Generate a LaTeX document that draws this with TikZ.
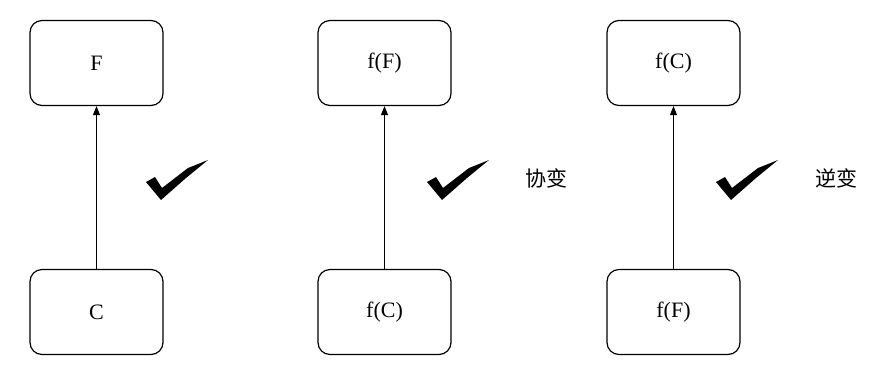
\documentclass[tikz,border=0pt]{standalone}
\usepackage{fontspec}
\setmainfont{Liberation Serif}
\newfontfamily\cjk{Noto Sans CJK SC}
\usetikzlibrary{arrows.meta}
\tikzset{
  box/.style={draw, line width=1.2pt, rounded corners=12pt, minimum width=133pt, minimum height=85pt, inner sep=0pt, font=\fontsize{22}{24}\selectfont},
  conn/.style={line width=1pt, -{Triangle[length=9pt,width=7pt]}},
  lbl/.style={font=\cjk\fontsize{21}{24}\selectfont, inner sep=0pt},
  chk/.pic={\fill (0,0) -- (9,-5) -- (16,6) -- (42,-14) -- (62,-22) -- (40,-4) -- (15,18) -- cycle;}
}
\begin{document}
\begin{tikzpicture}[x=1pt,y=-1pt]
\useasboundingbox (0,0) rectangle (870,373);
\node[box] (t1) at (96.5,63) {F};
\node[box] (b1) at (96.5,312) {C};
\node[box] (t2) at (384.5,63) {f(F)};
\node[box] (b2) at (384.5,312) {f(C)};
\node[box] (t3) at (673.5,63) {f(C)};
\node[box] (b3) at (673.5,312) {f(F)};
\draw[conn] (b1) -- (t1);
\draw[conn] (b2) -- (t2);
\draw[conn] (b3) -- (t3);
\pic at (146,182) {chk};
\pic at (427,182) {chk};
\pic at (716,182) {chk};
\node[lbl] (cov) at (546,178) {协变};
\node[lbl] (contra) at (836,178) {逆变};
\end{tikzpicture}
\end{document}
